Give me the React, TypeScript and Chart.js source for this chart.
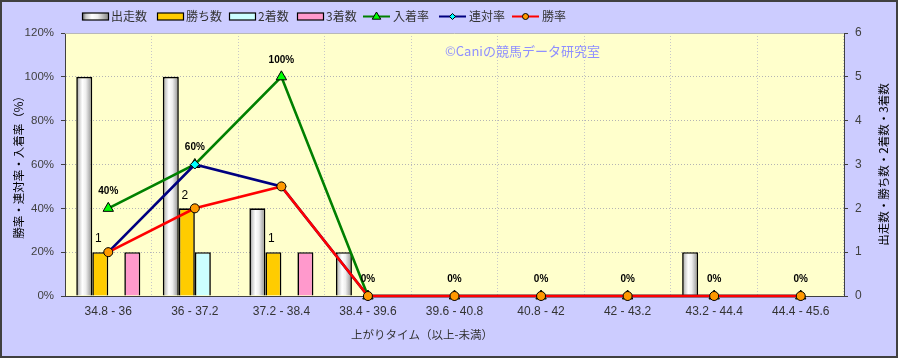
import React, { useEffect, useRef } from 'react';
import { Chart, registerables } from 'chart.js';

Chart.register(...registerables);

const categories = ['34.8 - 36', '36 - 37.2', '37.2 - 38.4', '38.4 - 39.6', '39.6 - 40.8', '40.8 - 42', '42 - 43.2', '43.2 - 44.4', '44.4 - 45.6'];
const starts = [5, 5, 2, 1, 0, 0, 0, 1, 0];
const wins = [1, 2, 1, 0, 0, 0, 0, 0, 0];
const seconds = [0, 1, 0, 0, 0, 0, 0, 0, 0];
const thirds = [1, 0, 1, 0, 0, 0, 0, 0, 0];
const placeRate = [40, 60, 100, 0, 0, 0, 0, 0, 0];
const quinellaRate = [20, 60, 50, 0, 0, 0, 0, 0, 0];
const winRate = [20, 40, 50, 0, 0, 0, 0, 0, 0];

const seriesNames = ['出走数', '勝ち数', '2着数', '3着数', '入着率', '連対率', '勝率'];
const leftTitle = '勝率・連対率・入着率（%）';
const rightTitle = '出走数・勝ち数・2着数・3着数';
const xTitle = '上がりタイム（以上-未満）';
const watermark = '©Caniの競馬データ研究室';

const CJK = "'Noto Sans CJK JP', 'Liberation Sans', sans-serif";
const LAT = "'Liberation Sans', 'Noto Sans CJK JP', sans-serif";

const barFills = ['#ffffff', '#ffcc00', '#ccffff', '#ff99cc'];
const lineColors = ['#008000', '#000080', '#ff0000'];
const markerFills = ['#00ff00', '#00ffff', '#ff9900'];
const markerStyles = ['triangle', 'rectRot', 'circle'];
const markerRadius = [6, 4.5, 4.5];

function startsGradient(ctx: CanvasRenderingContext2D, left: number, width: number) {
  const g = ctx.createLinearGradient(left, 0, left + width, 0);
  g.addColorStop(0, '#5a5a5a');
  g.addColorStop(0.15, '#c8c8c8');
  g.addColorStop(0.38, '#ffffff');
  g.addColorStop(0.6, '#eeeeee');
  g.addColorStop(1, '#8a8a8a');
  return g;
}

function drawMarker(ctx: CanvasRenderingContext2D, style: string, x: number, y: number, r: number, fill: string) {
  ctx.save();
  ctx.fillStyle = fill;
  ctx.strokeStyle = '#000';
  ctx.lineWidth = 1;
  ctx.beginPath();
  if (style === 'triangle') {
    ctx.moveTo(x, y - r);
    ctx.lineTo(x + r * 0.95, y + r * 0.6);
    ctx.lineTo(x - r * 0.95, y + r * 0.6);
    ctx.closePath();
  } else if (style === 'rectRot') {
    ctx.moveTo(x, y - r);
    ctx.lineTo(x + r, y);
    ctx.lineTo(x, y + r);
    ctx.lineTo(x - r, y);
    ctx.closePath();
  } else {
    ctx.arc(x, y, r, 0, Math.PI * 2);
  }
  ctx.fill();
  ctx.stroke();
  ctx.restore();
}

const bgPlugin = {
  id: 'bgPlugin',
  beforeDraw(chart: any) {
    const { ctx, chartArea, width, height } = chart;
    ctx.save();
    ctx.fillStyle = '#ccccff';
    ctx.fillRect(0, 0, width, height);
    ctx.fillStyle = '#ffffcc';
    ctx.fillRect(chartArea.left, chartArea.top, chartArea.right - chartArea.left, chartArea.bottom - chartArea.top);
    ctx.restore();
  },
  beforeDatasetsDraw(chart: any) {
    const ctx = chart.ctx;
    const meta = chart.getDatasetMeta(0);
    meta.data.forEach((el: any) => {
      const { x, width } = el.getProps(['x', 'width'], true);
      if (!isFinite(x) || !isFinite(width)) return;
      el.options = Object.assign({}, el.options, { backgroundColor: startsGradient(ctx, x - width / 2, width) });
    });
  },
  afterDatasetsDraw(chart: any) {
    const ctx = chart.ctx;
    ctx.save();
    // 入着率 labels
    const pm = chart.getDatasetMeta(4);
    ctx.font = `bold 10px ${LAT}`;
    ctx.fillStyle = '#000';
    ctx.textAlign = 'center';
    ctx.textBaseline = 'middle';
    pm.data.forEach((el: any, i: number) => {
      ctx.fillText(`${placeRate[i]}%`, el.x, el.y - 17);
    });
    // 勝ち数 labels
    const wm = chart.getDatasetMeta(1);
    ctx.font = `12px ${LAT}`;
    wm.data.forEach((el: any, i: number) => {
      if (wins[i] > 0) ctx.fillText(String(wins[i]), el.x - 2, el.y - 13);
    });
    ctx.restore();
  },
  afterDraw(chart: any) {
    const { ctx, chartArea, width, height } = chart;
    ctx.save();
    // top border of plot
    ctx.strokeStyle = '#b8b8b8';
    ctx.lineWidth = 1;
    ctx.beginPath();
    ctx.moveTo(chartArea.left, chartArea.top + 0.5);
    ctx.lineTo(chartArea.right, chartArea.top + 0.5);
    ctx.stroke();

    // watermark
    ctx.font = `13px ${CJK}`;
    ctx.fillStyle = '#8f8fff';
    ctx.textAlign = 'left';
    ctx.textBaseline = 'middle';
    ctx.fillText(watermark, 445, 51);

    // axis titles
    ctx.fillStyle = '#000';
    ctx.font = `11.5px ${CJK}`;
    ctx.textAlign = 'center';
    ctx.save();
    ctx.translate(19, (chartArea.top + chartArea.bottom) / 2);
    ctx.rotate(-Math.PI / 2);
    ctx.fillText(leftTitle, 0, 0);
    ctx.restore();
    ctx.save();
    ctx.translate(884, (chartArea.top + chartArea.bottom) / 2);
    ctx.rotate(-Math.PI / 2);
    ctx.fillText(rightTitle, 0, 0);
    ctx.restore();
    ctx.fillStyle = '#333';
    ctx.font = `11.5px ${CJK}`;
    ctx.fillText(xTitle, 422, 335);

    // legend
    const ly = 16.5;
    ctx.font = `12px ${CJK}`;
    ctx.textAlign = 'left';
    ctx.fillStyle = '#333';
    const boxX = [82, 157, 229, 297];
    for (let i = 0; i < 4; i++) {
      const bx = boxX[i];
      const bw = 26;
      ctx.fillStyle = i === 0 ? startsGradient(ctx, bx, bw) : barFills[i];
      ctx.fillRect(bx, ly - 3.5, bw, 7);
      ctx.strokeStyle = '#000';
      ctx.lineWidth = 1.2;
      ctx.strokeRect(bx + 0.5, ly - 3.5, bw, 7);
      ctx.fillStyle = '#333';
      ctx.fillText(seriesNames[i], bx + 29, ly);
    }
    const lineX = [363, 439, 512];
    for (let j = 0; j < 3; j++) {
      const lx = lineX[j];
      ctx.strokeStyle = lineColors[j];
      ctx.lineWidth = 2;
      ctx.beginPath();
      ctx.moveTo(lx, ly);
      ctx.lineTo(lx + 27, ly);
      ctx.stroke();
      drawMarker(ctx, markerStyles[j], lx + 13.5, ly, markerRadius[j] - 1.5, markerFills[j]);
      ctx.fillStyle = '#333';
      ctx.fillText(seriesNames[4 + j], lx + 30, ly);
    }

    // outer border
    ctx.strokeStyle = '#404040';
    ctx.lineWidth = 2;
    ctx.strokeRect(1, 1, width - 2, height - 2);
    ctx.restore();
  },
};

export default function App() {
  const ref = useRef<HTMLCanvasElement | null>(null);
  useEffect(() => {
    document.body.style.margin = '0';
    if (!ref.current) return;
    Chart.defaults.font.family = LAT;
    const nz = (arr: number[]) => arr.map((v) => (v === 0 ? null : v));
    const barSets = [starts, wins, seconds, thirds].map((arr, i) => ({
      type: 'bar' as const,
      label: seriesNames[i],
      data: nz(arr),
      backgroundColor: barFills[i],
      borderColor: '#000',
      borderWidth: 1.6,
      yAxisID: 'y1',
      order: 10,
      categoryPercentage: 0.74,
      barPercentage: 1,
    }));
    const lineSets = [placeRate, quinellaRate, winRate].map((arr, j) => ({
      type: 'line' as const,
      label: seriesNames[4 + j],
      data: arr,
      borderColor: lineColors[j],
      borderWidth: 2.6,
      pointStyle: markerStyles[j],
      pointRadius: markerRadius[j],
      pointBackgroundColor: markerFills[j],
      pointBorderColor: '#000',
      pointBorderWidth: 1,
      yAxisID: 'y',
      order: 3 - j,
      tension: 0,
      clip: false as any,
    }));
    const chart = new Chart(ref.current, {
      type: 'bar',
      data: { labels: categories, datasets: [...barSets, ...lineSets] as any },
      plugins: [bgPlugin],
      options: {
        animation: false,
        responsive: false,
        layout: { padding: { top: 33, left: 0, right: 0, bottom: 0 } },
        plugins: { legend: { display: false }, tooltip: { enabled: false }, title: { display: false } },
        scales: {
          x: {
            offset: true,
            grid: { color: '#c8c8c8', drawTicks: false, offset: true },
            border: { color: '#404040', width: 1, dash: [1, 2] },
            ticks: { color: '#333', font: { size: 12, family: LAT }, padding: 8, maxRotation: 0, autoSkip: false },
            afterFit: (s: any) => { s.height = 62; },
          },
          y: {
            position: 'left',
            min: 0,
            max: 120,
            ticks: { stepSize: 20, color: '#404040', font: { size: 11.5, family: LAT }, padding: 7, callback: (v: any) => `${v}%` },
            grid: { color: '#b4b4b4', tickLength: 4, tickColor: '#404040', tickBorderDash: [] as any, drawTicks: true },
            border: { color: '#404040', width: 1, dash: [1, 2] },
            afterFit: (s: any) => { s.width = 65; },
          },
          y1: {
            position: 'right',
            min: 0,
            max: 6,
            ticks: { stepSize: 1, color: '#404040', font: { size: 12, family: LAT }, padding: 7 },
            grid: { drawOnChartArea: false, tickLength: 4, tickColor: '#404040', tickBorderDash: [] as any, drawTicks: true },
            border: { color: '#404040', width: 1 },
            afterFit: (s: any) => { s.width = 54; },
          },
        },
      } as any,
    });
    return () => chart.destroy();
  }, []);
  return <canvas ref={ref} width={898} height={358} style={{ display: 'block', width: 898, height: 358 }} />;
}
